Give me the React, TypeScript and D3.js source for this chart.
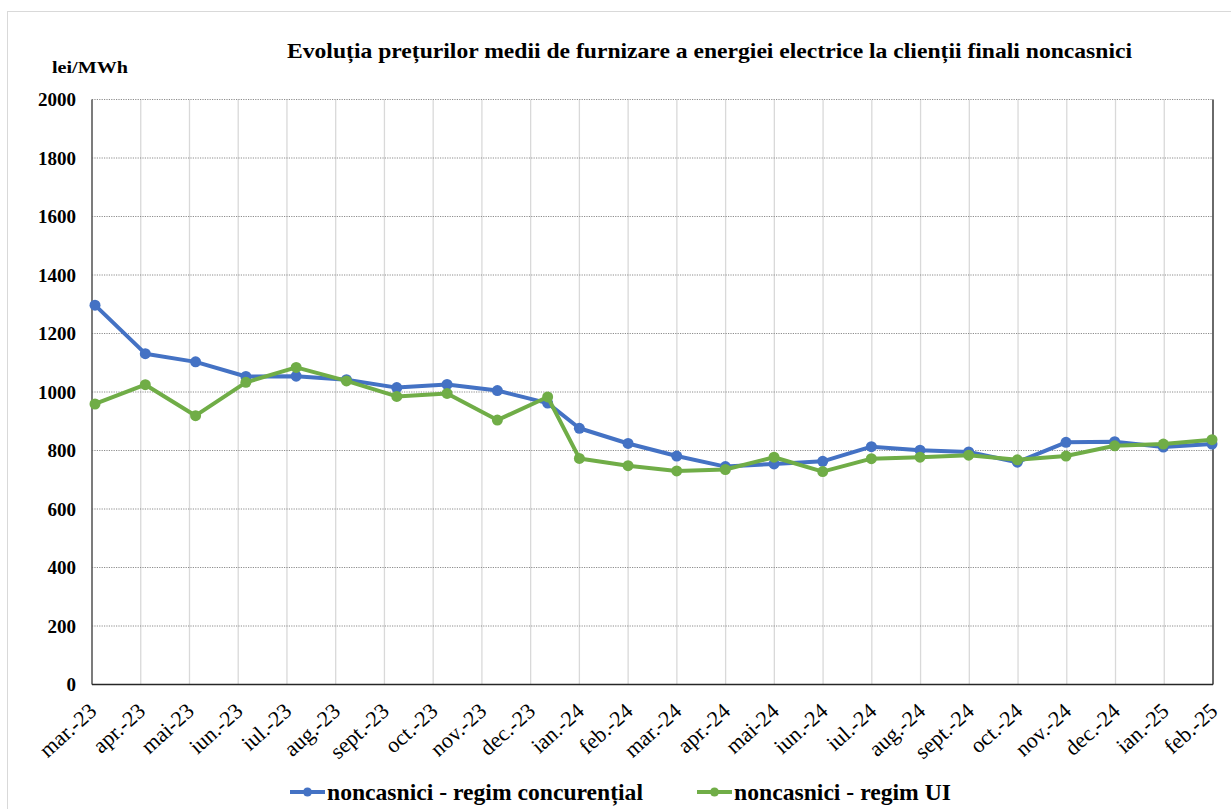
import * as d3 from "d3";

const months = [
  "mar.-23", "apr.-23", "mai-23", "iun.-23", "iul.-23", "aug.-23", "sept.-23", "oct.-23",
  "nov.-23", "dec.-23", "ian.-24", "feb.-24", "mar.-24", "apr.-24", "mai-24", "iun.-24",
  "iul.-24", "aug.-24", "sept.-24", "oct.-24", "nov.-24", "dec.-24", "ian.-25", "feb.-25",
];

const concurential = [
  1297, 1131, 1103, 1053, 1054, 1042, 1015, 1026, 1005, 962, 876, 824,
  781, 745, 754, 763, 813, 801, 795, 760, 828, 830, 812, 822,
];

const regimUI = [
  959, 1025, 919, 1033, 1084, 1038, 985, 995, 904, 983, 773, 748,
  730, 735, 777, 728, 772, 777, 784, 768, 781, 816, 822, 837,
];

const yTicks = [0, 200, 400, 600, 800, 1000, 1200, 1400, 1600, 1800, 2000];

const series = [
  { name: "noncasnici - regim concurențial", values: concurential, color: "#4472C4" },
  { name: "noncasnici - regim UI", values: regimUI, color: "#70AD47" },
];

const W = 1231;
const H = 809;
const plot = { left: 92, right: 1213, top: 99.5, bottom: 684.5 };
const font = "'Liberation Serif', 'Times New Roman', serif";

export default function App() {
  const n = months.length;

  // category gridlines / tick positions
  const x = d3.scaleLinear().domain([0, n - 1]).range([plot.left, plot.right]);
  // the markers in the source drift off the gridlines for 2023, then snap back
  const xPt = d3
    .scaleLinear()
    .domain([0, 9, 10, n - 1])
    .range([x(0) + 3, x(9) + 17, x(10), x(n - 1) - 1]);

  const y = d3.scaleLinear().domain([0, 2000]).range([plot.bottom, plot.top]);

  const line = d3
    .line<number>()
    .x((_, i) => xPt(i))
    .y((d) => y(d));

  const legendItems = [
    { x0: 290, len: 316, ...series[0] },
    { x0: 697, len: 217, ...series[1] },
  ];

  return (
    <svg
      width={W}
      height={H}
      style={{ position: "absolute", left: 0, top: 0, background: "#fff" }}
      fontFamily={font}
    >
      <rect x={7.5} y={11.5} width={1250} height={830} fill="#fff" stroke="#d9d9d9" />

      {/* title and unit */}
      <text
        x={287}
        y={58}
        fontSize={21}
        fontWeight="bold"
        fill="#000"
        textLength={845}
        lengthAdjust="spacingAndGlyphs"
      >
        Evoluția prețurilor medii de furnizare a energiei electrice la clienții finali noncasnici
      </text>
      <text x={52} y={73} fontSize={17} fontWeight="bold" fill="#000" textLength={76} lengthAdjust="spacingAndGlyphs">
        lei/MWh
      </text>

      {/* vertical grid */}
      {months.map((m, i) => (
        <line
          key={"v" + m}
          x1={x(i)}
          x2={x(i)}
          y1={plot.top}
          y2={plot.bottom}
          stroke="#d9d9d9"
          strokeWidth={1.3}
        />
      ))}

      {/* horizontal grid */}
      {yTicks.map((t) => (
        <line
          key={"h" + t}
          x1={plot.left}
          x2={plot.right}
          y1={y(t)}
          y2={y(t)}
          stroke="#8c8c8c"
          strokeWidth={1}
          strokeDasharray="1.2,1.2"
        />
      ))}

      {/* axes frame */}
      <line x1={plot.left} x2={plot.left} y1={plot.top} y2={plot.bottom} stroke="#595959" strokeWidth={1.5} />
      <line x1={plot.right} x2={plot.right} y1={plot.top} y2={plot.bottom} stroke="#404040" strokeWidth={1.5} />
      <line x1={plot.left} x2={plot.right} y1={plot.bottom} y2={plot.bottom} stroke="#262626" strokeWidth={1.5} />

      {/* y labels */}
      {yTicks.map((t) => (
        <text
          key={"yl" + t}
          x={76}
          y={y(t)}
          dy="0.35em"
          textAnchor="end"
          fontSize={19}
          fontWeight="bold"
          fill="#000"
        >
          {t}
        </text>
      ))}

      {/* x labels */}
      {months.map((m, i) => (
        <text
          key={"xl" + m}
          transform={`translate(${x(i) + 6},${713}) rotate(-42)`}
          textAnchor="end"
          fontSize={22}
          fill="#000"
        >
          {m}
        </text>
      ))}

      {/* series */}
      {series.map((s) => (
        <g key={s.name}>
          <path
            d={line(s.values) || ""}
            fill="none"
            stroke={s.color}
            strokeWidth={4}
            strokeLinejoin="round"
          />
          {s.values.map((v, i) => (
            <circle key={i} cx={xPt(i)} cy={y(v)} r={5.5} fill={s.color} />
          ))}
        </g>
      ))}

      {/* legend */}
      {legendItems.map((it) => (
        <g key={"lg" + it.name}>
          <line x1={it.x0} x2={it.x0 + 35} y1={792} y2={792} stroke={it.color} strokeWidth={4} />
          <circle cx={it.x0 + 17.5} cy={792} r={4.5} fill={it.color} />
          <text
            x={it.x0 + 37}
            y={800}
            fontSize={23}
            fontWeight="bold"
            fill="#000"
            textLength={it.len}
            lengthAdjust="spacingAndGlyphs"
          >
            {it.name}
          </text>
        </g>
      ))}
    </svg>
  );
}
